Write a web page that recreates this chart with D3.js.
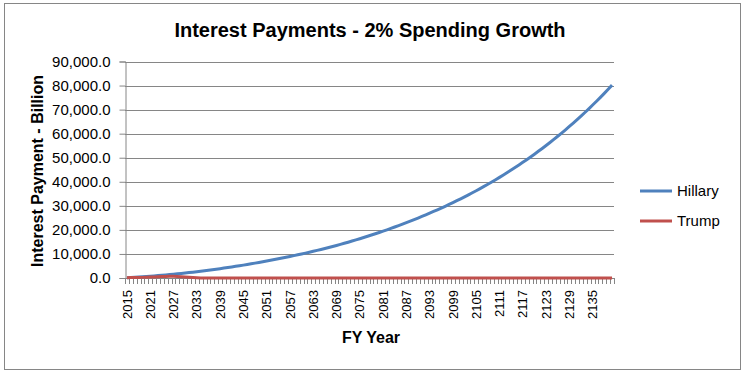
<!DOCTYPE html>
<html lang="en">
<head>
    <meta charset="UTF-8">
    <title>Interest Payments - 2% Spending Growth</title>
    <style>
        body { margin: 0; background: #fff; }
        text { font-family: "Liberation Sans", Arial, sans-serif; fill: #000; }
    </style>
</head>
<body>
    <svg id="chart" width="747" height="377"></svg>

<script src="https://cdn.jsdelivr.net/npm/d3@7/dist/d3.min.js"></script>
<script>

    // categories: fiscal years 2015 .. 2140
    let years = d3.range(2015, 2141)

    // interest payments, billion
    let hillary = [
        150, 235, 325, 420, 525, 635, 750, 875, 1005, 1140,
        1280, 1430, 1580, 1740, 1905, 2075, 2255, 2435, 2625, 2820,
        3020, 3230, 3440, 3660, 3885, 4115, 4355, 4595, 4845, 5100,
        5360, 5630, 5900, 6180, 6465, 6755, 7055, 7355, 7665, 7980,
        8300, 8630, 8960, 9300, 9645, 9995, 10355, 10725, 11100, 11485,
        11875, 12275, 12685, 13105, 13535, 13975, 14425, 14885, 15355, 15835,
        16325, 16825, 17335, 17855, 18385, 18925, 19475, 20035, 20610, 21195,
        21790, 22395, 23010, 23635, 24275, 24925, 25585, 26260, 26945, 27645,
        28355, 29080, 29820, 30575, 31345, 32130, 32930, 33745, 34575, 35425,
        36290, 37170, 38070, 38985, 39920, 40870, 41840, 42830, 43840, 44870,
        45920, 46990, 48080, 49190, 50320, 51480, 52660, 53860, 55090, 56340,
        57620, 58920, 60250, 61610, 62990, 64400, 65840, 67310, 68810, 70340,
        71900, 73490, 75110, 76760, 78450, 80170
    ]

    let trump = [
        150, 170, 190, 220, 260, 310, 380, 460, 540, 610,
        660, 690, 690, 650, 570, 460, 340, 220, 120, 50,
        0, 0, 0, 0, 0, 0, 0, 0, 0, 0,
        0, 0, 0, 0, 0, 0, 0, 0, 0, 0,
        0, 0, 0, 0, 0, 0, 0, 0, 0, 0,
        0, 0, 0, 0, 0, 0, 0, 0, 0, 0,
        0, 0, 0, 0, 0, 0, 0, 0, 0, 0,
        0, 0, 0, 0, 0, 0, 0, 0, 0, 0,
        0, 0, 0, 0, 0, 0, 0, 0, 0, 0,
        0, 0, 0, 0, 0, 0, 0, 0, 0, 0,
        0, 0, 0, 0, 0, 0, 0, 0, 0, 0,
        0, 0, 0, 0, 0, 0, 0, 0, 0, 0,
        0, 0, 0, 0, 0, 0
    ]

    let yTicks = [0, 10000, 20000, 30000, 40000, 50000, 60000, 70000, 80000, 90000]
    // every sixth year gets a label
    let xTickLabels = years.filter((d, i) => i % 6 === 0)

    let seriesNames = ["Hillary", "Trump"]
    let seriesColors = ["#4f81bd", "#c0504d"]

    let svg = d3.select("#chart")
    let gray = "#868686"

    let plotLeft = 125, plotRight = 614, plotTop = 61.5, plotBottom = 278

    svg.append("rect")
        .attr("x", 4.5).attr("y", 3.5)
        .attr("width", 736).attr("height", 366)
        .attr("fill", "none").attr("stroke", gray)

    let x = d3.scaleBand()
        .domain(years)
        .range([plotLeft, plotRight])

    let y = d3.scaleLinear()
        .domain([0, 90000])
        .range([plotBottom, plotTop])

    // gridlines
    svg.append("g")
        .selectAll("line")
        .data(yTicks.slice(1))
        .enter()
        .append("line")
        .attr("x1", plotLeft).attr("x2", plotRight)
        .attr("y1", d => Math.round(y(d)) + 0.5)
        .attr("y2", d => Math.round(y(d)) + 0.5)
        .attr("stroke", gray)

    // y axis
    let yAxis = d3.axisLeft(y)
        .tickValues(yTicks)
        .tickSize(6)
        .tickPadding(9)
        .tickFormat(d3.format(",.1f"))
    let yG = svg.append("g")
        .attr("transform", `translate(${plotLeft + 0.5},0)`)
        .call(yAxis)
    yG.select(".domain").attr("stroke", gray)
    yG.selectAll(".tick line").attr("stroke", gray)
    yG.selectAll(".tick text")
        .style("font-size", "15px")
        .style("font-family", "'Liberation Sans', Arial, sans-serif")
        .attr("fill", "#000")

    // x axis line and a tick between every category
    let xG = svg.append("g")
    xG.append("line")
        .attr("x1", plotLeft).attr("x2", plotRight)
        .attr("y1", Math.round(y(0)) + 0.5).attr("y2", Math.round(y(0)) + 0.5)
        .attr("stroke", gray)
    xG.selectAll("line.tick")
        .data(years.concat(["end"]))
        .enter()
        .append("line")
        .attr("class", "tick")
        .attr("x1", d => Math.round(d === "end" ? plotRight : x(d)) + 0.5)
        .attr("x2", d => Math.round(d === "end" ? plotRight : x(d)) + 0.5)
        .attr("y1", Math.round(y(0)))
        .attr("y2", Math.round(y(0)) + 6)
        .attr("stroke", gray)

    xG.selectAll("text")
        .data(xTickLabels)
        .enter()
        .append("text")
        .attr("transform", d => `translate(${x(d) + x.bandwidth() / 2},290) rotate(-90)`)
        .attr("text-anchor", "end")
        .attr("dy", "0.35em")
        .style("font-family", "'Liberation Sans Narrow', 'Liberation Sans', Arial, sans-serif")
        .style("font-size", "13px")
        .text(d => d)

    // lines
    let line = d3.line()
        .x((d, i) => x(years[i]) + x.bandwidth() / 2)
        .y(d => y(d))

    svg.append("path")
        .datum(hillary)
        .attr("d", line)
        .attr("fill", "none")
        .attr("stroke", seriesColors[0])
        .attr("stroke-width", 3)
        .attr("stroke-linejoin", "round")

    svg.append("path")
        .datum(trump)
        .attr("d", line)
        .attr("fill", "none")
        .attr("stroke", seriesColors[1])
        .attr("stroke-width", 3)
        .attr("stroke-linejoin", "round")

    // titles
    svg.append("text")
        .attr("x", 370).attr("y", 37)
        .attr("text-anchor", "middle")
        .style("font-size", "20px").style("font-weight", "bold")
        .text("Interest Payments - 2% Spending Growth")

    svg.append("text")
        .attr("x", 371).attr("y", 343)
        .attr("text-anchor", "middle")
        .style("font-size", "16px").style("font-weight", "bold")
        .text("FY Year")

    svg.append("text")
        .attr("transform", "translate(43,171) rotate(-90)")
        .attr("text-anchor", "middle")
        .style("font-size", "16px").style("font-weight", "bold")
        .text("Interest Payment - Billion")

    // legend
    let legend = svg.append("g")
        .selectAll("g")
        .data(seriesNames)
        .enter()
        .append("g")
        .attr("transform", (d, i) => `translate(640,${191 + i * 30})`)
    legend.append("line")
        .attr("x1", 0).attr("x2", 32)
        .attr("stroke", (d, i) => seriesColors[i])
        .attr("stroke-width", 3)
    legend.append("text")
        .attr("x", 37)
        .attr("dy", "0.35em")
        .style("font-size", "15px")
        .text(d => d)

</script>
</body>
</html>
